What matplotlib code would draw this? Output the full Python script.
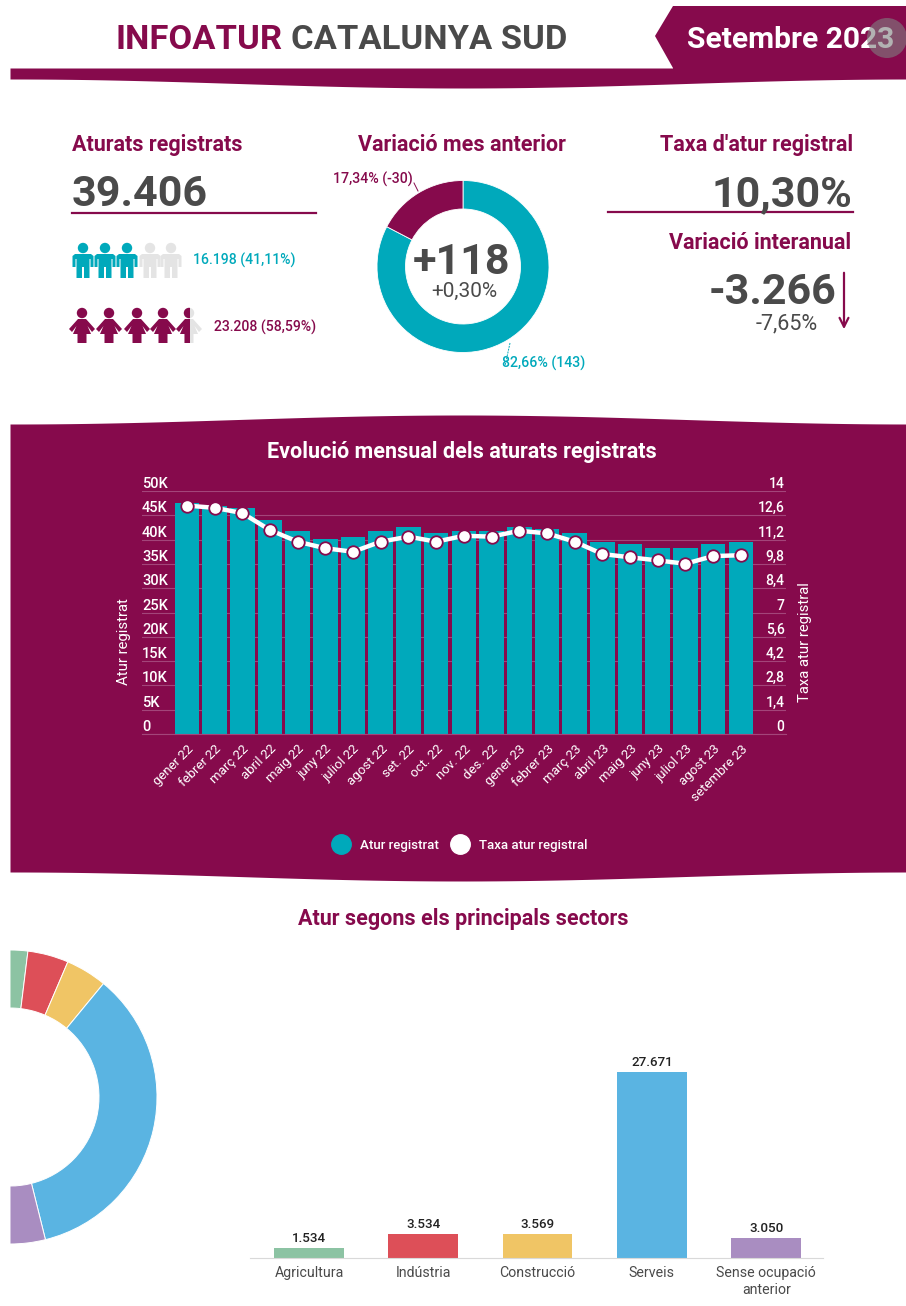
import numpy as np
import matplotlib
matplotlib.use('Agg')
import matplotlib.pyplot as plt
from matplotlib.patches import Polygon, Circle, Rectangle
from matplotlib.lines import Line2D

W, H = 906, 1306
PURPLE = '#860A4C'
TEAL = '#00A9BB'
DARK = '#4A4A4A'
GRID = '#A3457A'

plt.rcParams['font.family'] = ['Roboto', 'DejaVu Sans']

# dades
months = ['gener 22', 'febrer 22', 'març 22', 'abril 22', 'maig 22', 'juny 22', 'juliol 22',
          'agost 22', 'set. 22', 'oct. 22', 'nov. 22', 'des. 22', 'gener 23', 'febrer 23',
          'març 23', 'abril 23', 'maig 23', 'juny 23', 'juliol 23', 'agost 23', 'setembre 23']
atur = [47600, 47000, 46500, 44100, 41700, 40200, 40500, 41700, 42600, 41300, 41700,
        41700, 42600, 42100, 41300, 39600, 39100, 38200, 38200, 39100, 39406]
taxa = [13.16, 13.03, 12.73, 11.75, 11.08, 10.70, 10.50, 11.08, 11.37, 11.08, 11.42,
        11.37, 11.71, 11.56, 11.08, 10.37, 10.18, 10.00, 9.81, 10.25, 10.30]
left_ticks = [0, 5000, 10000, 15000, 20000, 25000, 30000, 35000, 40000, 45000, 50000]
left_labels = ['0', '5K', '10K', '15K', '20K', '25K', '30K', '35K', '40K', '45K', '50K']
right_ticks = [0, 1.4, 2.8, 4.2, 5.6, 7, 8.4, 9.8, 11.2, 12.6, 14]
right_labels = ['0', '1,4', '2,8', '4,2', '5,6', '7', '8,4', '9,8', '11,2', '12,6', '14']

var_values = [143, 30]
var_colors = [TEAL, PURPLE]

sectors = ['Agricultura', 'Indústria', 'Construcció', 'Serveis', 'Sense ocupació\nanterior']
sector_values = [1534, 3534, 3569, 27671, 3050]
sector_labels = ['1.534', '3.534', '3.569', '27.671', '3.050']
sector_colors = ['#8CC3A3', '#DD4F58', '#F0C565', '#5AB4E2', '#A98DC1']

men_filled = 3
women_filled = 4

MAN = [(-8, 11), (8, 11), (10.5, 13), (10.5, 24), (7.5, 24), (7.5, 16), (6.5, 16), (6.5, 35), (1, 35), (1, 24),
       (-1, 24), (-1, 35), (-6.5, 35), (-6.5, 16), (-7.5, 16), (-7.5, 24), (-10.5, 24), (-10.5, 13)]
WOMAN = [(-4, 11), (4, 11), (13, 21), (10, 24), (5.5, 18), (9, 26), (4.5, 26), (4.5, 35),
         (-4.5, 35), (-4.5, 26), (-9, 26), (-5.5, 18), (-10, 24), (-13, 21)]


def axes_px(x0, y0, x1, y1, **kw):
    # rectangle in pixels, top-left origin
    return fig.add_axes([x0 / W, 1 - y1 / H, (x1 - x0) / W, (y1 - y0) / H], **kw)


def wave(x0, x1, y_edge, y_peak, n=60):
    xs = np.linspace(x0, x1, n)
    t = (xs - 462) / (x1 - x0) * 2
    return xs, y_edge + (y_peak - y_edge) * np.cos(np.clip(t, -1, 1) * np.pi / 2) ** 2


def person(a, shape, cx, top, color, clip=None):
    parts = [Circle((cx, top + 5), 5.2),
             Polygon([(cx + px, top + py) for px, py in shape])]
    for p in parts:
        p.set(facecolor=color, edgecolor='none')
        a.add_patch(p)
        if clip is not None:
            p.set_clip_path(clip)


fig = plt.figure(figsize=(W / 100, H / 100), dpi=100, facecolor='white')

# fons en pixels
bg = fig.add_axes([0, 0, 1, 1], zorder=0)
bg.set_xlim(0, W)
bg.set_ylim(H, 0)
bg.axis('off')

xs, ys = wave(10, W, 79, 88)
bg.fill_between(xs, 68, ys, color=PURPLE, lw=0)
bg.add_patch(Polygon([(655, 36), (673, 6), (W, 6), (W, 75), (673, 75), (673, 68)], fc=PURPLE, ec='none'))

xs, yt = wave(10, W, 424, 415)
xs, yb = wave(10, W, 872, 881)
bg.fill_between(xs, yt, yb, color=PURPLE, lw=0)

# capcalera
bg.text(115, 40, 'INFOATUR', color=PURPLE, fontsize=24.8, fontweight='bold', va='center', ha='left')
bg.text(291, 40, 'CATALUNYA SUD', color=DARK, fontsize=24.8, fontweight='bold', va='center', ha='left')
bg.text(687, 40, 'Setembre 2023', color='white', fontsize=21.6, fontweight='bold', va='center', ha='left')

# blocs superiors
HEAD = 15.5
bg.text(72, 145, 'Aturats registrats', color=PURPLE, fontsize=HEAD, fontweight='bold', va='center')
bg.text(72, 195, '39.406', color=DARK, fontsize=31, fontweight='bold', va='center')
bg.plot([72, 316], [213, 213], color=PURPLE, lw=1.6)
bg.text(462, 145, 'Variació mes anterior', color=PURPLE, fontsize=HEAD, fontweight='bold', va='center', ha='center')
bg.text(853, 145, "Taxa d'atur registral", color=PURPLE, fontsize=HEAD, fontweight='bold', va='center', ha='right')
bg.text(852, 195, '10,30%', color=DARK, fontsize=31, fontweight='bold', va='center', ha='right')
bg.plot([608, 853], [212, 212], color=PURPLE, lw=1.6)
bg.text(851, 243, 'Variació interanual', color=PURPLE, fontsize=HEAD, fontweight='bold', va='center', ha='right')
bg.text(836, 293, '-3.266', color=DARK, fontsize=31, fontweight='bold', va='center', ha='right')
bg.text(818, 324, '-7,65%', color=DARK, fontsize=15.5, va='center', ha='right')
bg.annotate('', xy=(844, 332), xytext=(844, 270),
            arrowprops=dict(arrowstyle='->', color=PURPLE, lw=1.6, mutation_scale=16))

# persones
man_x = [83, 105, 127, 150, 171]
for i, cx in enumerate(man_x):
    person(bg, MAN, cx, 243, TEAL if i < men_filled else '#E4E4E4')
woman_x = [82, 109, 137, 163, 189]
for i, cx in enumerate(woman_x):
    person(bg, WOMAN, cx, 308, PURPLE if i < women_filled else '#E4E4E4')
clip = Rectangle((170, 300), 20, 50, transform=bg.transData)
person(bg, WOMAN, woman_x[4], 308, PURPLE, clip=clip)
bg.text(193, 260, '16.198 (41,11%)', color=TEAL, fontsize=10.1, fontweight='medium', va='center')
bg.text(214, 327, '23.208 (58,59%)', color=PURPLE, fontsize=10.1, fontweight='medium', va='center')

# donut variacio
ax_d = axes_px(463 - 86, 266.5 - 86, 463 + 86, 266.5 + 86, zorder=1)
ax_d.pie(var_values, colors=var_colors, startangle=90, counterclock=False, radius=1,
         wedgeprops=dict(width=1 - 57.5 / 86, edgecolor='white', linewidth=0.6))
ax_d.set_xlim(-1, 1)
ax_d.set_ylim(-1, 1)
bg.plot([414, 418], [183, 191], color=PURPLE, lw=0.7)
bg.plot([510, 505], [343, 366], color=TEAL, lw=0.7, ls=(0, (2, 1)))
bg.text(333, 179, '17,34% (-30)', color=PURPLE, fontsize=10.2, fontweight='medium', va='center')
bg.text(502, 363, '82,66% (143)', color=TEAL, fontsize=10.2, fontweight='medium', va='center')

# evolucio mensual
bg.text(462, 452, 'Evolució mensual dels aturats registrats', color='white', fontsize=HEAD,
        fontweight='bold', va='center', ha='center')
ax = axes_px(142, 491, 786, 734, zorder=2)
ax.patch.set_alpha(0)
x = np.arange(len(months))
ax.bar(x, atur, width=0.89, color=TEAL, zorder=2)
ax.set_xlim(-1.62, 21.63)
ax.set_ylim(0, 50000)
ax.set_yticks(left_ticks)
ax.set_yticklabels(left_labels, color='white', fontsize=10.5, fontweight='medium', ha='left', va='bottom')
ax.set_xticks(x)
ax.set_xticklabels(months, rotation=45, ha='right', rotation_mode='anchor', color='white', fontsize=9.5)
ax.tick_params(axis='y', length=0, pad=0)
ax.tick_params(axis='x', length=0, pad=6)
ax.grid(axis='y', color=GRID, lw=0.8, zorder=0)
ax.set_axisbelow(True)
for sp in ['top', 'left', 'right']:
    ax.spines[sp].set_visible(False)
ax.spines['bottom'].set_color(GRID)

ax2 = ax.twinx()
ax2.set_ylim(0, 14)
ax2.plot(x, taxa, color='white', lw=3.2, marker='o', ms=9, mfc='white', mec=PURPLE, mew=1.3, zorder=5)
ax2.set_yticks(right_ticks)
ax2.set_yticklabels(right_labels, color='white', fontsize=10, fontweight='medium', ha='right', va='bottom')
ax2.tick_params(axis='y', length=0, pad=-1)
for sp in ax2.spines.values():
    sp.set_visible(False)

bg.text(124, 642, 'Atur registrat', color='white', fontsize=10.7, rotation=90, va='center', ha='center')
bg.text(805, 642, 'Taxa atur registral', color='white', fontsize=10.7, rotation=90, va='center', ha='center')

handles = [Line2D([], [], ls='', marker='o', ms=14, color=TEAL),
           Line2D([], [], ls='', marker='o', ms=14, color='white')]
fig.legend(handles, ['Atur registrat', 'Taxa atur registral'], ncol=2, frameon=False,
           loc='center', bbox_to_anchor=(458 / W, 1 - 845 / H), labelcolor='white',
           prop=dict(size=9.5, weight='medium'), handletextpad=0.45, columnspacing=0.6)

# sectors
bg.text(463, 919, 'Atur segons els principals sectors', color=PURPLE, fontsize=HEAD,
        fontweight='bold', va='center', ha='center')

R = 147
ax_s = axes_px(10 - R, 1097 - R, 10 + R, 1097 + R, zorder=1)
total = sum(sector_values)
ax_s.pie([v / (2 * total) for v in sector_values], colors=sector_colors, startangle=90, counterclock=False,
         normalize=False, radius=1, wedgeprops=dict(width=1 - 89 / R, edgecolor='white', linewidth=0.7))
ax_s.set_xlim(-1, 1)
ax_s.set_ylim(-1, 1)

ax_b = axes_px(250, 1043, 823, 1258, zorder=1)
xb = np.arange(len(sectors))
ax_b.bar(xb, sector_values, width=0.61, color=sector_colors)
ax_b.set_xlim(-0.516, 4.497)
ax_b.set_ylim(0, 32000)
ax_b.set_yticks([])
ax_b.set_xticks(xb)
ax_b.set_xticklabels(sectors, color=DARK, fontsize=10.2, linespacing=1.2)
ax_b.tick_params(axis='x', length=0, pad=6)
for sp in ['top', 'left', 'right']:
    ax_b.spines[sp].set_visible(False)
ax_b.spines['bottom'].set_color('#D9D9D9')
for xi, v, lab in zip(xb, sector_values, sector_labels):
    ax_b.annotate(lab, (xi, v), xytext=(0, 2), textcoords='offset points', ha='center', va='bottom',
                  fontsize=9.6, fontweight='medium', color='#222222')

# capa superior: cercle gris i textos del donut
top = fig.add_axes([0, 0, 1, 1], zorder=10)
top.set_xlim(0, W)
top.set_ylim(H, 0)
top.axis('off')
top.patch.set_alpha(0)
top.add_patch(Circle((887, 38), 20, fc='#808080', ec='none', alpha=0.6))
top.text(462, 262, '+118', color=DARK, fontsize=31, fontweight='bold', va='center', ha='center')
top.text(464, 291, '+0,30%', color=DARK, fontsize=15, va='center', ha='center')

fig.savefig('out.png', dpi=100)
